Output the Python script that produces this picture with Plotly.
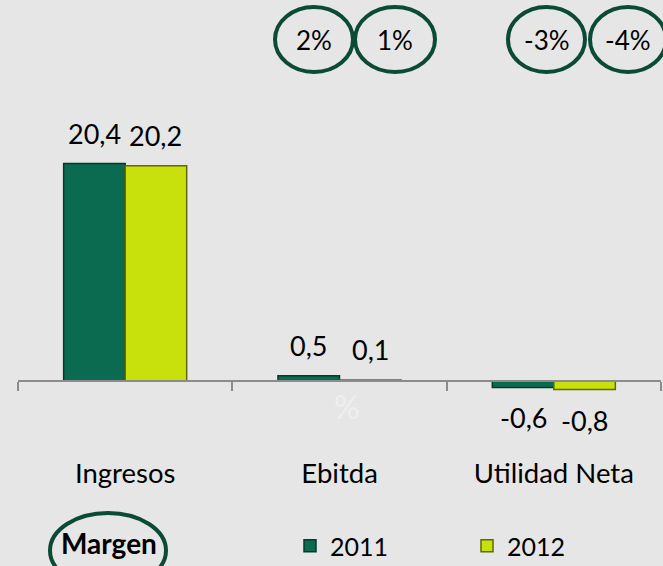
import plotly.graph_objects as go

# Data
categorias = ["Ingresos", "Ebitda", "Utilidad Neta"]
anios = ["2011", "2012"]
valores_2011 = [20.4, 0.5, -0.6]
valores_2012 = [20.2, 0.1, -0.8]
margen_2011 = ["2%", "-3%"]   # Ebitda, Utilidad Neta
margen_2012 = ["1%", "-4%"]

W, H = 663, 566
BG = "#E6E6E6"
FONT = "Lato"
C2011, C2011_EDGE = "#0A6B50", "#053A2B"
C2012, C2012_EDGE = "#C8E00B", "#5F6A00"
ELLIPSE = "#0B4A36"

# y range so that zero sits on the axis line
ymin, ymax = -17.35, 35.74
zero_pos = -ymin / (ymax - ymin)

def px(x):
    return x / W

def py(y):
    return 1 - y / H

fig = go.Figure()
fig.add_trace(go.Bar(x=categorias, y=valores_2011, name=anios[0],
                     marker=dict(color=C2011, line=dict(color=C2011_EDGE, width=1.5))))
fig.add_trace(go.Bar(x=categorias, y=valores_2012, name=anios[1],
                     marker=dict(color=C2012, line=dict(color=C2012_EDGE, width=1.5))))

bargap = 0.426
off = (1 - bargap) / 4

annotations = []
# value labels over / under each bar
for serie, dx in ((valores_2011, -off), (valores_2012, off)):
    for i, v in enumerate(serie):
        annotations.append(dict(
            x=i + dx, y=v, xref="x", yref="y",
            text=f"{v:.1f}".replace(".", ","), showarrow=False,
            xanchor="center", yanchor="bottom" if v >= 0 else "top",
            yshift=12 if v >= 0 else -12,
            font=dict(family=FONT, size=27, color="#000000")))

# margin ellipses at the top
shapes = []
circulos = [(margen_2011[0], 275, 353), (margen_2012[0], 355, 435),
            (margen_2011[1], 508, 585), (margen_2012[1], 590, 666)]
for txt, x0, x1 in circulos:
    shapes.append(dict(type="circle", xref="paper", yref="paper",
                       x0=px(x0), x1=px(x1), y0=py(72), y1=py(7),
                       line=dict(color=ELLIPSE, width=4)))
    annotations.append(dict(x=px((x0 + x1) / 2), y=py(40), xref="paper", yref="paper",
                            text=txt, showarrow=False, xanchor="center", yanchor="middle",
                            font=dict(family=FONT, size=26, color="#000000")))

# "Margen" ellipse
shapes.append(dict(type="circle", xref="paper", yref="paper",
                   x0=px(50), x1=px(166), y0=py(588), y1=py(513),
                   line=dict(color=ELLIPSE, width=4)))
annotations.append(dict(x=px(109), y=py(543), xref="paper", yref="paper",
                        text="<b>Margen</b>", showarrow=False,
                        xanchor="center", yanchor="middle",
                        font=dict(family=FONT, size=28, color="#000000")))

# faint watermark
annotations.append(dict(x=px(347), y=py(406), xref="paper", yref="paper",
                        text="%", showarrow=False, xanchor="center", yanchor="middle",
                        font=dict(family=FONT, size=32, color="rgba(255,255,255,0.35)")))

fig.update_layout(
    width=W, height=H,
    margin=dict(l=0, r=0, t=0, b=0, autoexpand=False),
    paper_bgcolor=BG, plot_bgcolor=BG,
    barmode="group", bargap=bargap, bargroupgap=0,
    font=dict(family=FONT, color="#000000"),
    showlegend=True,
    legend=dict(orientation="h", x=px(290), y=py(546), xanchor="left", yanchor="middle",
                entrywidth=132, entrywidthmode="pixels",
                font=dict(family=FONT, size=25), bgcolor="rgba(0,0,0,0)"),
    annotations=annotations,
    shapes=shapes,
)
fig.update_xaxes(domain=[px(18), px(661)], anchor="free", position=zero_pos,
                 tickson="boundaries", ticks="outside", ticklen=9, tickwidth=2,
                 tickcolor="#8C8C8C", showline=True, linecolor="#8C8C8C", linewidth=2,
                 showgrid=False, ticklabelstandoff=68,
                 tickfont=dict(family=FONT, size=27.5, color="#000000"))
fig.update_yaxes(range=[ymin, ymax], visible=False, showgrid=False, zeroline=False)

fig.write_html("out.html", config={"displayModeBar": False},
               post_script="document.body.style.margin='0';")
